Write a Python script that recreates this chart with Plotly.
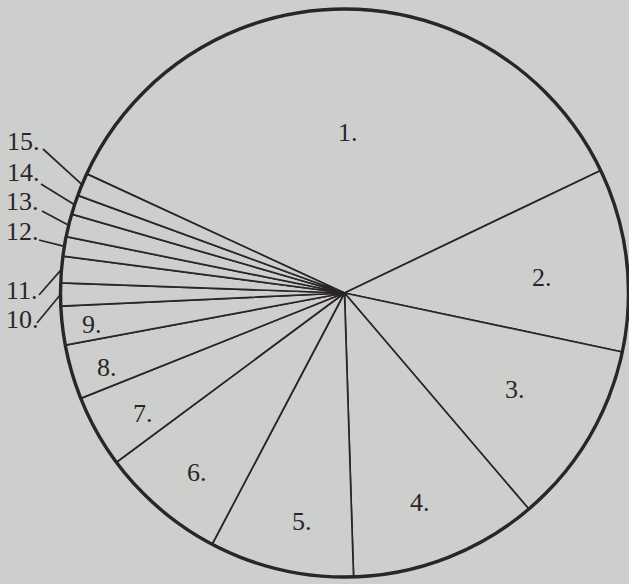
import math
import plotly.graph_objects as go

# ---- data ----
labels = ["1.", "2.", "3.", "4.", "5.", "6.", "7.", "8.", "9.",
          "10.", "11.", "12.", "13.", "14.", "15."]
shares = [35.9, 10.4, 10.4, 10.7, 8.2, 7.1, 4.1, 3.1, 2.2,
          1.3, 1.5, 1.1, 1.3, 1.1, 1.3]
start_angle = -65.2  # degrees clockwise from 12 o'clock where slice 1 begins

# ---- layout helpers ----
W, H = 629, 584
CX, CY, R = 344.5, 293.0, 284.0
BG = "#cdcfcc"
INK = "#2a2527"
FONT = "Liberation Serif"


def px(x):
    return x / W


def py(y):
    return 1 - y / H


fig = go.Figure()
fig.add_trace(go.Pie(
    labels=labels,
    values=shares,
    sort=False,
    direction="clockwise",
    rotation=start_angle,
    textinfo="none",
    hoverinfo="label+percent",
    showlegend=False,
    marker=dict(colors=[BG] * len(labels), line=dict(color=INK, width=1.7)),
    domain=dict(x=[px(CX - R), px(CX + R)], y=[py(CY + R), py(CY - R)]),
))

# thicker outer rim
fig.add_shape(type="circle", xref="paper", yref="paper",
              x0=px(CX - R), x1=px(CX + R), y0=py(CY + R), y1=py(CY - R),
              line=dict(color=INK, width=3.4), layer="above")

# label positions (pixel centres)
label_pos = {
    "1.": (348, 132), "2.": (542, 277), "3.": (515, 389), "4.": (420, 503),
    "5.": (302, 521), "6.": (197, 472), "7.": (143, 414), "8.": (107, 367),
    "9.": (92, 325), "10.": (22, 319), "11.": (22, 290), "12.": (22, 231),
    "13.": (22, 201), "14.": (23, 172), "15.": (23, 141),
}
# leader line start points (near the label's full stop)
leader_start = {
    "10.": (37, 323), "11.": (39, 295), "12.": (39, 240),
    "13.": (42, 211), "14.": (41, 184), "15.": (43, 149),
}

for lab, (x, y) in label_pos.items():
    fig.add_annotation(x=px(x), y=py(y), xref="paper", yref="paper",
                       text=lab, showarrow=False,
                       font=dict(family=FONT, size=26, color=INK),
                       xanchor="center", yanchor="middle")

# leader lines to the middle of each small slice on the rim
total = sum(shares)
cum = 0.0
for lab, v in zip(labels, shares):
    mid = start_angle + (cum + v / 2) / total * 360.0
    cum += v
    if lab in leader_start:
        a = math.radians(mid)
        ex = CX + R * math.sin(a)
        ey = CY - R * math.cos(a)
        sx, sy = leader_start[lab]
        fig.add_shape(type="line", xref="paper", yref="paper",
                      x0=px(sx), y0=py(sy), x1=px(ex), y1=py(ey),
                      line=dict(color=INK, width=1.7), layer="above")

fig.update_layout(
    width=W, height=H,
    margin=dict(l=0, r=0, t=0, b=0),
    paper_bgcolor=BG, plot_bgcolor=BG,
)

fig.write_html(
    "out.html",
    config={"displayModeBar": False},
    post_script="document.body.style.margin='0';document.body.style.padding='0';"
                "document.body.style.background='%s';" % BG,
)
